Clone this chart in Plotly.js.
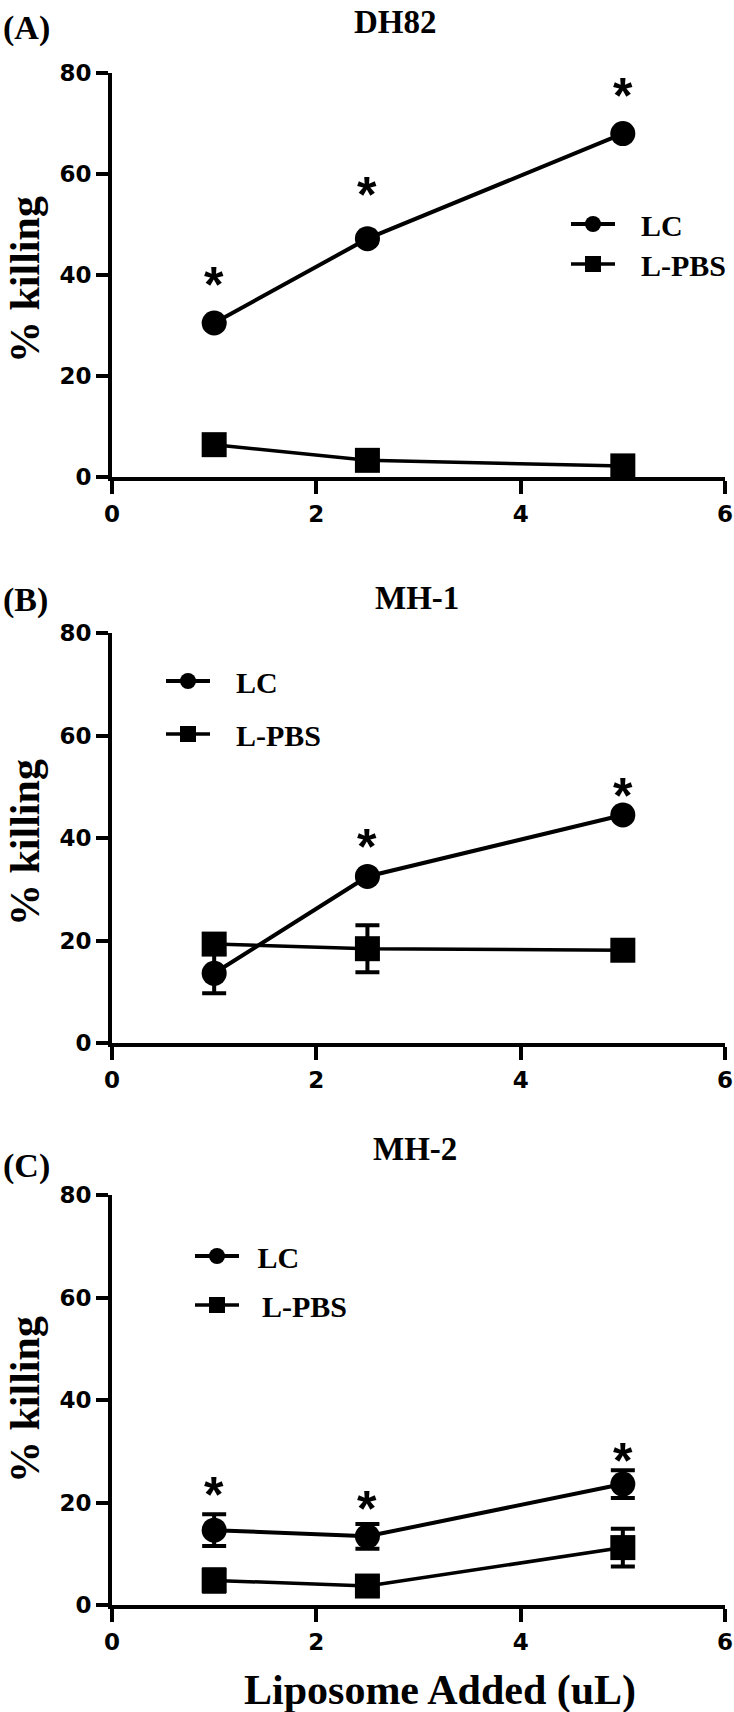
<!DOCTYPE html>
<html>
<head>
<meta charset="utf-8">
<script src="https://cdn.plot.ly/plotly-3.0.1.min.js"></script>
<style>
  html, body { margin: 0; padding: 0; background: #fff; }
  #chart { width: 734px; height: 1712px; }
</style>
</head>
<body>
<div id="chart"></div>
<script>
// ---- data ----
const doses = [1, 2.5, 5];
const seriesNames = ["LC", "L-PBS"];
const panelLetters = ["(A)", "(B)", "(C)"];
const panelTitles = ["DH82", "MH-1", "MH-2"];

const dh82LC = [30.5, 47.2, 68.0];
const dh82LCerr = [0, 0, 0];
const dh82PBS = [6.4, 3.3, 2.2];
const dh82PBSerr = [0, 0, 0];

const mh1LC = [13.6, 32.5, 44.5];
const mh1LCerr = [3.9, 0, 0];
const mh1PBS = [19.3, 18.4, 18.1];
const mh1PBSerr = [0, 4.6, 0];

const mh2LC = [14.6, 13.4, 23.6];
const mh2LCerr = [3.1, 2.4, 2.7];
const mh2PBS = [4.8, 3.7, 11.2];
const mh2PBSerr = [2.2, 1.5, 3.7];

// significance asterisk positions (x, y in data units)
const dh82StarX = [1, 2.5, 5];
const dh82StarY = [40.0, 57.9, 77.4];
const mh1StarX = [2.5, 5];
const mh1StarY = [40.1, 50.2];
const mh2StarX = [1, 2.5, 5];
const mh2StarY = [23.4, 20.6, 30.1];

const xTickVals = [0, 2, 4, 6];
const yTickVals = [0, 20, 40, 60, 80];
const xTitle = "Liposome Added (uL)";
const yTitle = "% killing";

// ---- styling ----
const W = 734, H = 1712, ML = 112, MR = 9;
const PW = W - ML - MR;
const px2x = p => (p - ML) / PW;
const py2y = p => 1 - p / H;

const serif = "Liberation Serif";
const sans = "DejaVu Sans";
const starFam = "Liberation Sans";
const NB = "\u00a0", TH = "\u2009";

const panels = [
  {lc: dh82LC, lce: dh82LCerr, pbs: dh82PBS, pbse: dh82PBSerr, sx: dh82StarX, sy: dh82StarY,
   dom: [py2y(477), py2y(73)], legLeft: 566, legTops: [198, 238],
   padLC: NB + NB + TH, padPBS: NB + NB + TH,
   letterY: 28, titleX: 395, titleY: 22, yTitleY: 280},
  {lc: mh1LC, lce: mh1LCerr, pbs: mh1PBS, pbse: mh1PBSerr, sx: mh1StarX, sy: mh1StarY,
   dom: [py2y(1043), py2y(633)], legLeft: 161, legTops: [655, 708],
   padLC: NB + NB + TH, padPBS: NB + NB + TH,
   letterY: 600, titleX: 417, titleY: 598, yTitleY: 843},
  {lc: mh2LC, lce: mh2LCerr, pbs: mh2PBS, pbse: mh2PBSerr, sx: mh2StarX, sy: mh2StarY,
   dom: [py2y(1605), py2y(1195)], legLeft: 190, legTops: [1230, 1279],
   padLC: TH + NB, padPBS: TH + TH + TH,
   letterY: 1166, titleX: 415, titleY: 1149, yTitleY: 1400}
];

const traces = [];
const layout = {
  width: W, height: H,
  margin: {l: ML, r: MR, t: 0, b: 0},
  paper_bgcolor: "#fff", plot_bgcolor: "#fff",
  showlegend: true,
  annotations: [],
  font: {family: sans, color: "#000", size: 23, weight: 700}
};

panels.forEach((p, i) => {
  const n = i === 0 ? "" : String(i + 1);
  const xa = "x" + n, ya = "y" + n;
  const legA = i === 0 ? "legend" : "legend" + (2 * i + 1);
  const legB = "legend" + (2 * i + 2);

  traces.push({
    x: doses, y: p.lc, xaxis: xa, yaxis: ya, type: "scatter", mode: "lines+markers",
    name: p.padLC + seriesNames[0], legend: legA,
    line: {color: "#000", width: 4},
    marker: {symbol: "circle", size: 25, color: "#000"},
    error_y: {type: "data", array: p.lce, visible: true, color: "#000", thickness: 4, width: 12},
    cliponaxis: false
  });
  traces.push({
    x: doses, y: p.pbs, xaxis: xa, yaxis: ya, type: "scatter", mode: "lines+markers",
    name: p.padPBS + seriesNames[1], legend: legB,
    line: {color: "#000", width: 3.5},
    marker: {symbol: "square", size: 25, color: "#000"},
    error_y: {type: "data", array: p.pbse, visible: true, color: "#000", thickness: 4, width: 12},
    cliponaxis: false
  });

  layout["xaxis" + n] = {
    domain: [0, 1], range: [0, 6], anchor: ya,
    tickvals: xTickVals,
    ticks: "outside", ticklen: 13, tickwidth: 4, tickcolor: "#000",
    showline: true, linewidth: 4, linecolor: "#000", showgrid: false, zeroline: false,
    tickfont: {family: sans, size: 23, color: "#000", weight: 700}
  };
  layout["yaxis" + n] = {
    domain: p.dom, range: [0, 80], anchor: xa,
    tickvals: yTickVals,
    ticks: "outside", ticklen: 12, tickwidth: 4, tickcolor: "#000",
    showline: true, linewidth: 4, linecolor: "#000", showgrid: false, zeroline: false,
    tickfont: {family: sans, size: 23, color: "#000", weight: 700}
  };
  [legA, legB].forEach((lg, k) => {
    layout[lg] = {
      x: px2x(p.legLeft), y: py2y(p.legTops[k]), xanchor: "left", yanchor: "top",
      bgcolor: "rgba(0,0,0,0)", borderwidth: 0,
      font: {family: serif, size: 30, color: "#000", weight: 700},
      itemwidth: 44
    };
  });

  // significance asterisks
  p.sx.forEach((sx, k) => {
    layout.annotations.push({
      xref: xa, yref: ya, x: sx, y: p.sy[k], text: "*", showarrow: false,
      xanchor: "center", yanchor: "middle", yshift: -10,
      font: {family: starFam, size: 50, color: "#000", weight: 700}
    });
  });

  // panel letter
  layout.annotations.push({
    xref: "paper", yref: "paper", x: px2x(1), y: py2y(p.letterY), text: panelLetters[i],
    showarrow: false, xanchor: "left", yanchor: "middle",
    font: {family: serif, size: 34, color: "#000", weight: 700}
  });
  // panel title
  layout.annotations.push({
    xref: "paper", yref: "paper", x: px2x(p.titleX), y: py2y(p.titleY), text: panelTitles[i],
    showarrow: false, xanchor: "center", yanchor: "middle",
    font: {family: serif, size: 33, color: "#000", weight: 700}
  });
  // y-axis title
  layout.annotations.push({
    xref: "paper", yref: "paper", x: px2x(25), y: py2y(p.yTitleY), text: yTitle,
    showarrow: false, xanchor: "center", yanchor: "middle", textangle: -90,
    font: {family: serif, size: 42, color: "#000", weight: 700}
  });
});

// x-axis title (bottom panel only)
layout.annotations.push({
  xref: "paper", yref: "paper", x: px2x(440), y: py2y(1690), text: xTitle,
  showarrow: false, xanchor: "center", yanchor: "middle",
  font: {family: serif, size: 42, color: "#000", weight: 700}
});

Plotly.newPlot("chart", traces, layout, {staticPlot: true, displayModeBar: false});
</script>
</body>
</html>
